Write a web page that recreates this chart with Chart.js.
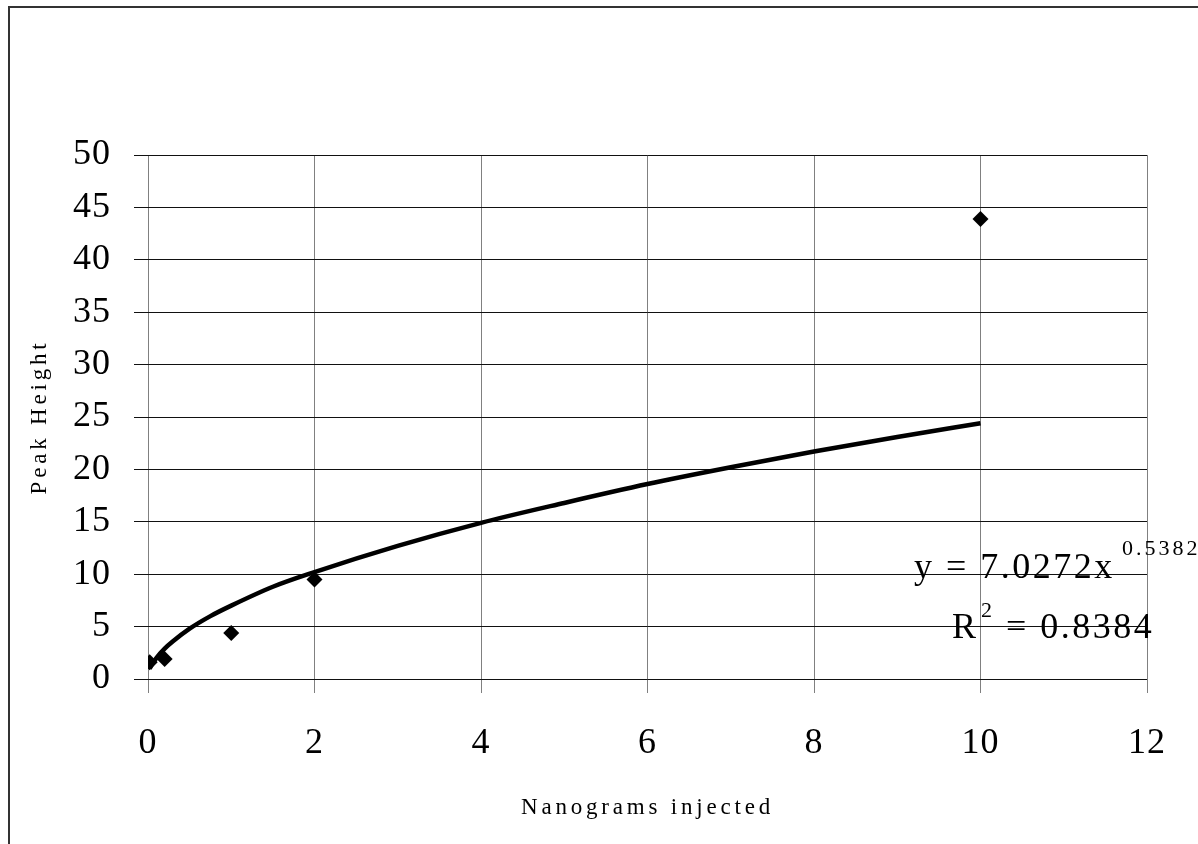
<!DOCTYPE html>
<html>
<head>
<meta charset="utf-8">
<script src="https://cdn.jsdelivr.net/npm/chart.js@4.4.1/dist/chart.umd.min.js"></script>
<style>
  html, body { margin: 0; padding: 0; background: #fff; }
  #wrap { width: 1198px; height: 844px; position: relative; }
</style>
</head>
<body>
<div id="wrap"><canvas id="peakChart"></canvas></div>
<script>
// measured points
const nanograms = [0.02, 0.2, 1, 2, 10];
const peakHeight = [1.6, 1.9, 4.4, 9.5, 43.9];

// power trendline
const trendX = [0.02, 0.05, 0.1, 0.2, 0.3, 0.5, 0.75, 1, 1.5, 2, 3, 4, 5, 6, 7, 8, 9, 10];
const trendY = [1.0, 1.4, 2.0, 2.9, 3.6, 4.8, 6.0, 7.0, 8.8, 10.2, 12.7, 14.9, 16.8, 18.6, 20.2, 21.7, 23.1, 24.4];

const xTicks = [0, 2, 4, 6, 8, 10, 12];
const yTicks = [0, 5, 10, 15, 20, 25, 30, 35, 40, 45, 50];

const SERIF = '"Liberation Serif", "Times New Roman", serif';

// letter spacing like the original (Excel output is spaced out)
const spacingPlugin = {
  id: 'spacing',
  beforeLayout(chart) { chart.ctx.letterSpacing = '1px'; },
  afterLayout(chart) {
    // axis titles are spaced wider than tick labels
    Object.values(chart.scales).forEach(scale => {
      if (scale._wrapped) return;
      const orig = scale.drawTitle;
      scale.drawTitle = function () {
        const ctx = this.ctx;
        ctx.save();
        ctx.letterSpacing = '3.8px';
        orig.apply(this, arguments);
        ctx.restore();
      };
      scale._wrapped = true;
    });
  },
  beforeDraw(chart) {
    const ctx = chart.ctx;
    ctx.letterSpacing = '1px';
    // outer frame (runs off the right and bottom of the page)
    ctx.save();
    ctx.strokeStyle = '#333';
    ctx.lineWidth = 2;
    ctx.beginPath();
    ctx.moveTo(9, 860);
    ctx.lineTo(9, 7);
    ctx.lineTo(1220, 7);
    ctx.stroke();
    ctx.restore();
  }
};

// trendline equation text
const equationPlugin = {
  id: 'equation',
  afterDraw(chart) {
    const ctx = chart.ctx;
    const r = chart.chartArea.right;
    ctx.save();
    ctx.fillStyle = '#000';
    ctx.textBaseline = 'alphabetic';
    ctx.textAlign = 'left';
    ctx.letterSpacing = '2.5px';
    ctx.font = '36px ' + SERIF;
    ctx.fillText('y = 7.0272x', r - 233, 578);
    ctx.fillText('R', r - 195, 638);
    ctx.fillText('= 0.8384', r - 141, 638);
    ctx.letterSpacing = '3px';
    ctx.font = '22px ' + SERIF;
    ctx.fillText('0.5382', r - 25, 555);
    ctx.fillText('2', r - 166, 617);
    ctx.restore();
  }
};

new Chart(document.getElementById('peakChart'), {
  data: {
    datasets: [
      {
        type: 'scatter',
        data: nanograms.map((x, i) => ({ x: x, y: peakHeight[i] })),
        pointStyle: 'rectRot',
        pointRadius: 8,
        pointBackgroundColor: '#000',
        pointBorderColor: '#000',
        pointBorderWidth: 0,
        order: 1
      },
      {
        type: 'line',
        data: trendX.map((x, i) => ({ x: x, y: trendY[i] })),
        borderColor: '#000',
        borderWidth: 4.5,
        pointRadius: 0,
        cubicInterpolationMode: 'monotone',
        fill: false,
        order: 2
      }
    ]
  },
  options: {
    responsive: true,
    maintainAspectRatio: false,
    animation: false,
    layout: { padding: { top: 155, right: 51, left: 0, bottom: 0 } },
    plugins: {
      legend: { display: false },
      tooltip: { enabled: false }
    },
    scales: {
      x: {
        type: 'linear',
        min: 0,
        max: 12,
        afterBuildTicks: axis => { axis.ticks = xTicks.map(v => ({ value: v })); },
        afterFit: scale => { scale.height = 165; },
        border: { display: false },
        grid: { color: '#808080', lineWidth: 1, tickLength: 14, tickColor: '#808080' },
        ticks: { color: '#000', padding: 29, maxRotation: 0, font: { family: SERIF, size: 36 } },
        title: {
          display: true,
          text: 'Nanograms injected',
          color: '#000',
          font: { family: SERIF, size: 23 },
          padding: { top: 0, bottom: 22 }
        }
      },
      y: {
        min: 0,
        max: 50,
        afterBuildTicks: axis => { axis.ticks = yTicks.map(v => ({ value: v })); },
        afterFit: scale => { scale.width = 148; },
        border: { display: false },
        grid: { color: '#111', lineWidth: 1, tickLength: 14, tickColor: '#111' },
        ticks: { color: '#000', padding: 23, font: { family: SERIF, size: 36 } },
        title: {
          display: true,
          text: 'Peak Height',
          color: '#000',
          font: { family: SERIF, size: 23 },
          padding: { top: 26, bottom: 0 }
        }
      }
    }
  },
  plugins: [spacingPlugin, equationPlugin]
});
</script>
</body>
</html>
